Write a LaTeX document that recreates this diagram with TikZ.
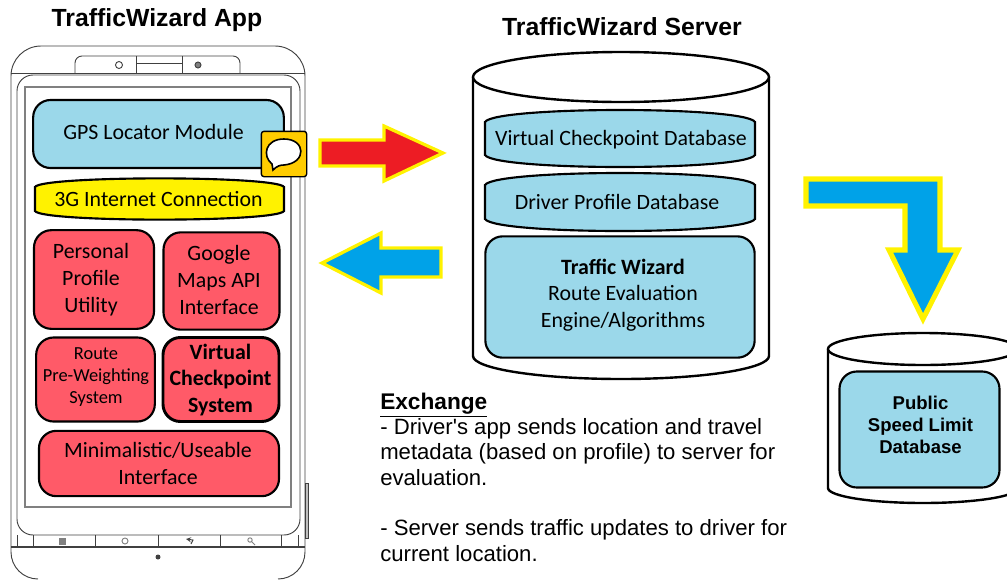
\documentclass[tikz,border=0pt]{standalone}
\usepackage{fontspec}
\setmainfont{Carlito}
\newfontfamily\arialfont{Liberation Sans}
\tikzset{>=stealth}
\definecolor{boxblue}{HTML}{9BD8EA}
\definecolor{boxred}{HTML}{FF5A68}
\definecolor{wizyellow}{HTML}{FFF200}
\definecolor{arrowblue}{HTML}{00A2E8}
\definecolor{arrowred}{HTML}{ED1C24}
\definecolor{icongold}{HTML}{FFCC00}
\definecolor{phonegray}{HTML}{404040}
\tikzset{
    bluebox/.style={draw=black, line width=1.6pt, fill=boxblue, rounded corners=13pt, inner sep=0pt},
    redbox/.style={bluebox, fill=boxred},
    bulgebox/.style={draw=black, line width=1.6pt, fill=#1},
    plaintext/.style={inner sep=0pt, align=center, font=\fontsize{16.4}{20}\selectfont},
    smalltext/.style={plaintext, font=\fontsize{13.8}{16.5}\selectfont},
    boldtext/.style={plaintext, font=\bfseries\fontsize{16.4}{20}\selectfont},
    sanstext/.style={plaintext, font=\arialfont\bfseries\fontsize{13.9}{16.5}\selectfont},
    heading/.style={font=\arialfont\bfseries\fontsize{18.6}{20}\selectfont, inner sep=0pt},
    phoneline/.style={draw=phonegray, line width=.7pt},
    bigarrow/.style={draw=wizyellow, line width=2.4pt, miter limit=4, line join=miter},
    dbshape/.style={draw=black, line width=1.8pt, fill=white}
}
\begin{document}
\begin{tikzpicture}[x=.75pt, y=-.75pt]
    \useasboundingbox (0,0) rectangle (1007,579);
    \node[heading] (apptitle) at (157,20) {TrafficWizard App};
    \node[heading] (servertitle) at (622,27) {TrafficWizard Server};

    % phone body
    \draw[phoneline] (11,552) -- (11,76) arc[start angle=180, end angle=270, radius=30] -- (275,46) arc[start angle=270, end angle=360, radius=30] -- (305,552);
    \draw[phoneline] (11,552) arc[start angle=180, end angle=90, radius=27];
    \draw[phoneline] (305,552) arc[start angle=0, end angle=90, radius=27];
    \draw[phoneline] (11,73) -- (305,73);
    \draw[phoneline] (75,73) -- (75,63) arc[start angle=180, end angle=270, radius=7] -- (233,56) arc[start angle=270, end angle=360, radius=7] -- (240,73);
    \draw[phoneline] (136,56) -- (136,73) (182,56) -- (182,73) (136,63) -- (182,63);
    \draw[phoneline] (119,65) circle (3.5);
    \draw[phoneline, fill=gray] (198,65) circle (3);
    \draw[phoneline, rounded corners=12pt] (17,535) -- (17,75) -- (300,75) -- (300,535) -- cycle;
    \draw[draw=gray, line width=1.1pt] (25,87) rectangle (291,507);
    \draw[phoneline, line width=1pt] (11,547) -- (305,547);
    \foreach \x in {17,33,95,158,220,281,298}
        \draw[phoneline] (\x,535) -- (\x,547);
    % button icons
    \fill[gray] (59,538) rectangle (66,545);
    \draw[phoneline, gray] (125,541) circle (3);
    \draw[phoneline, -{>[scale=.6]}] (191,544) -- (193,540) -- (186,539);
    \draw[phoneline, gray] (250,540) circle (2.2) (252,542) -- (255,545);
    \fill[phonegray] (158,557) circle (2.5);
    \draw[phoneline, fill=lightgray] (305,483) rectangle (308,538);

    % databases
    \draw[dbshape] (473,77) -- (473,356) arc[start angle=180, end angle=0, x radius=148, y radius=23] -- (769,77);
    \draw[dbshape] (621,77) ellipse[x radius=148, y radius=25];
    \draw[dbshape] (828,349) -- (828,488) arc[start angle=180, end angle=0, x radius=95, y radius=15] -- (1018,349);
    \draw[dbshape] (923,349) ellipse[x radius=95, y radius=16];

    % app modules
    \node[bluebox, minimum width=188pt, minimum height=51pt] (gps) at (158.5,134) {};
    \node[plaintext] (gpstext) at (153.5,132) {GPS Locator Module};
    \path[bulgebox=wizyellow] (35,187) .. controls (42,175.5) and (277,175.5) .. (284,187) -- (284,211) .. controls (277,222.5) and (42,222.5) .. (35,211) -- cycle;
    \node[plaintext] (internet) at (158.5,199) {3G Internet Connection};
    \node[redbox, minimum width=90pt, minimum height=74pt] (profile) at (94,279.5) {};
    \node[plaintext] (profiletext) at (91,279.5) {Personal\\Profile\\Utility};
    \node[redbox, minimum width=87pt, minimum height=73pt] (maps) at (221.5,281) {};
    \node[plaintext] (mapstext) at (219,280) {Google\\Maps API\\Interface};
    \node[redbox, minimum width=89pt, minimum height=63pt] (weighting) at (95.5,379.5) {};
    \node[smalltext] (weightingtext) at (96,377.5) {Route\\Pre-Weighting\\System};
    \node[redbox, minimum width=87pt, minimum height=63pt, line width=2.2pt] (checkpoint) at (221,379.5) {};
    \node[boldtext] (checkpointtext) at (220.5,380) {Virtual\\Checkpoint\\System};
    \node[redbox, minimum width=180pt, minimum height=49pt] (interface) at (159,463.5) {};
    \node[plaintext] (interfacetext) at (158,463.5) {Minimalistic/Useable\\Interface};

    % message icon
    \node[draw=black, fill=icongold, line width=1pt, rounded corners=2pt, minimum size=34pt, inner sep=0pt] (message) at (284,154) {};
    \draw[draw=black, line width=1.2pt, fill=white] (272,164) .. controls (262,156) and (265,139) .. (284,139) .. controls (306,139) and (307,163) .. (284,165) .. controls (280,165) and (277,166) .. (273,170) -- cycle;

    % server modules
    \path[bulgebox=boxblue] (485,122) .. controls (495,106) and (745,106) .. (755,122) -- (755,155) .. controls (745,171) and (495,171) .. (485,155) -- cycle;
    \node[plaintext] (checkdb) at (621,139.5) {Virtual Checkpoint Database};
    \path[bulgebox=boxblue] (485,185) .. controls (495,169) and (745,169) .. (755,185) -- (755,219) .. controls (745,235) and (495,235) .. (485,219) -- cycle;
    \node[plaintext] (driverdb) at (617,201.5) {Driver Profile Database};
    \node[bluebox, minimum width=202pt, minimum height=91pt] (engine) at (620,297) {};
    \node[plaintext] (enginetext) at (623,295) {\textbf{Traffic Wizard}\\Route Evaluation\\Engine/Algorithms};
    \node[bluebox, minimum width=120pt, minimum height=87pt] (speeddb) at (919.5,429.5) {};
    \node[sanstext] (speedtext) at (920.5,425) {Public\\Speed Limit\\Database};

    % arrows
    \draw[bigarrow, fill=arrowred] (320,140) -- (384,140) -- (384,126) -- (443,153) -- (384,181) -- (384,166) -- (320,166) -- cycle;
    \draw[bigarrow, fill=arrowblue] (441,248) -- (381,248) -- (381,233) -- (322,263) -- (381,293) -- (381,277) -- (441,277) -- cycle;
    \draw[bigarrow, fill=arrowblue, line width=3.8pt] (806,179) -- (940,179) -- (940,250) -- (958,250) -- (923,319) -- (889,250) -- (905,250) -- (905,206) -- (806,206) -- cycle;

    % exchange text
    \node[anchor=north west, inner sep=0pt, align=left, font=\arialfont\fontsize{16.6}{19}\selectfont] (exchange) at (380,392.5) {{\bfseries\fontsize{17}{19}\selectfont\underline{Exchange}}\\- Driver's app sends location and travel\\metadata (based on profile) to server for\\evaluation.\\[19pt]- Server sends traffic updates to driver for\\current location.};
\end{tikzpicture}
\end{document}
